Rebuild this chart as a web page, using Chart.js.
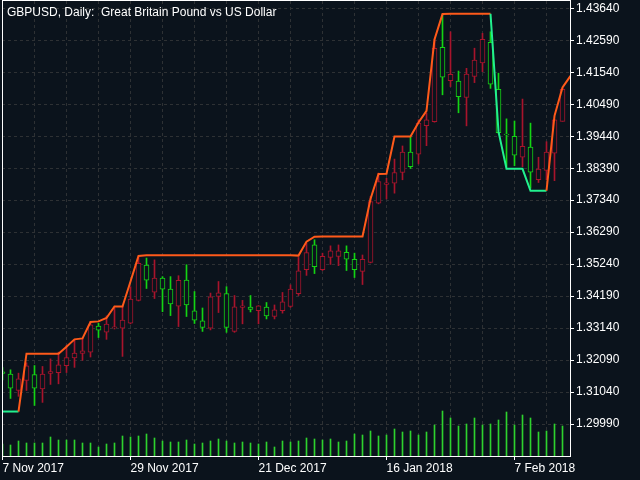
<!DOCTYPE html>
<html>
<head>
<meta charset="utf-8">
<script src="https://cdn.jsdelivr.net/npm/chart.js@4.4.1/dist/chart.umd.min.js"></script>
<style>
  html, body { margin: 0; padding: 0; background: #0b131c; }
  canvas { display: block; }
</style>
</head>
<body>
<canvas id="chart" width="640" height="480"></canvas>
<script>
// GBPUSD daily candles, one entry per bar (7 Nov 2017 .. 15 Feb 2018)
const title = 'GBPUSD, Daily:  Great Britain Pound vs US Dollar';

const opens = [
  1.3170, 1.3163, 1.3109, 1.3142, 1.3161, 1.3114, 1.3165, 1.3168, 1.3191, 1.3216,
  1.3231, 1.3235, 1.3321, 1.3301, 1.3315, 1.3314, 1.3330, 1.3405, 1.3521, 1.3432,
  1.3478, 1.3442, 1.3386, 1.3472, 1.3371, 1.3338, 1.3314, 1.3418, 1.3427, 1.3303,
  1.3382, 1.3383, 1.3371, 1.3383, 1.3352, 1.3371, 1.3385, 1.3427, 1.3506, 1.3587,
  1.3506, 1.3546, 1.3549, 1.3563, 1.3540, 1.3500, 1.3530, 1.3724, 1.3786, 1.3790,
  1.3825, 1.3892, 1.3885, 1.3979, 1.3992, 1.4236, 1.4126, 1.4125, 1.4071, 1.4140,
  1.4185, 1.4252, 1.4098, 1.3951, 1.3944, 1.3875, 1.3908, 1.3801, 1.3832, 1.3888,
  1.3993
];
const highs = [
  1.3184, 1.3177, 1.3166, 1.3200, 1.3191, 1.3188, 1.3213, 1.3235, 1.3258, 1.3276,
  1.3280, 1.3336, 1.3330, 1.3354, 1.3380, 1.3385, 1.3450, 1.3549, 1.3544, 1.3538,
  1.3483, 1.3483, 1.3486, 1.3522, 1.3434, 1.3380, 1.3429, 1.3467, 1.3450, 1.3421,
  1.3405, 1.3421, 1.3388, 1.3398, 1.3390, 1.3431, 1.3456, 1.3546, 1.3593, 1.3604,
  1.3560, 1.3584, 1.3587, 1.3584, 1.3560, 1.3554, 1.3746, 1.3823, 1.3806, 1.3869,
  1.3912, 1.3941, 1.3998, 1.4020, 1.4262, 1.4345, 1.4287, 1.4158, 1.4167, 1.4233,
  1.4282, 1.4287, 1.4151, 1.4001, 1.3994, 1.4066, 1.3987, 1.3875, 1.3926, 1.3998,
  1.4102
];
const lows = [
  1.3144, 1.3083, 1.3090, 1.3109, 1.3060, 1.3070, 1.3129, 1.3131, 1.3168, 1.3185,
  1.3208, 1.3219, 1.3283, 1.3277, 1.3311, 1.3221, 1.3328, 1.3403, 1.3444, 1.3411,
  1.3368, 1.3355, 1.3319, 1.3352, 1.3329, 1.3303, 1.3308, 1.3365, 1.3300, 1.3300,
  1.3328, 1.3367, 1.3328, 1.3344, 1.3344, 1.3363, 1.3382, 1.3421, 1.3487, 1.3493,
  1.3503, 1.3523, 1.3519, 1.3503, 1.3480, 1.3457, 1.3528, 1.3722, 1.3738, 1.3757,
  1.3801, 1.3838, 1.3853, 1.3913, 1.3990, 1.4080, 1.4107, 1.4021, 1.3978, 1.4120,
  1.4156, 1.4101, 1.3954, 1.3844, 1.3847, 1.3844, 1.3773, 1.3792, 1.3801, 1.3798,
  1.3993
];
const closes = [
  1.3165, 1.3117, 1.3147, 1.3190, 1.3117, 1.3163, 1.3171, 1.3193, 1.3217, 1.3232,
  1.3239, 1.3325, 1.3307, 1.3327, 1.3318, 1.3340, 1.3409, 1.3527, 1.3471, 1.3478,
  1.3442, 1.3393, 1.3471, 1.3390, 1.3340, 1.3316, 1.3417, 1.3430, 1.3316, 1.3384,
  1.3387, 1.3375, 1.3387, 1.3354, 1.3374, 1.3400, 1.3442, 1.3502, 1.3562, 1.3516,
  1.3550, 1.3568, 1.3568, 1.3540, 1.3506, 1.3540, 1.3729, 1.3795, 1.3791, 1.3825,
  1.3892, 1.3844, 1.3987, 1.3998, 1.4233, 1.4138, 1.4147, 1.4074, 1.4148, 1.4194,
  1.4262, 1.4115, 1.3956, 1.3948, 1.3882, 1.3911, 1.3826, 1.3836, 1.3892, 1.3998,
  1.4098
];
// tick volume, thousands
const volumeK = [
  48, 44, 60, 52, 52, 52, 76, 64, 64, 64,
  52, 52, 36, 48, 52, 80, 76, 80, 88, 72,
  60, 56, 56, 64, 48, 52, 60, 68, 60, 52,
  56, 52, 48, 56, 36, 60, 56, 60, 72, 68,
  64, 68, 56, 60, 88, 84, 100, 80, 84, 108,
  96, 100, 84, 96, 124, 180, 152, 120, 128, 152,
  124, 128, 144, 176, 124, 164, 152, 96, 100, 128,
  120
];
// trailing indicator line (runs one bar past the last candle)
const trendLine = [
  1.3040, 1.3040, 1.3040, 1.3230, 1.3230, 1.3230, 1.3230, 1.3230, 1.3253, 1.3277,
  1.3280, 1.3334, 1.3336, 1.3347, 1.3385, 1.3385, 1.3467, 1.3551, 1.3553, 1.3553,
  1.3553, 1.3553, 1.3553, 1.3553, 1.3553, 1.3553, 1.3553, 1.3553, 1.3553, 1.3553,
  1.3553, 1.3553, 1.3553, 1.3553, 1.3553, 1.3553, 1.3553, 1.3552, 1.3598, 1.3614,
  1.3615, 1.3615, 1.3615, 1.3615, 1.3615, 1.3615, 1.3738, 1.3820, 1.3821, 1.3943,
  1.3943, 1.3943, 1.3989, 1.4027, 1.4262, 1.4345, 1.4346, 1.4346, 1.4346, 1.4346,
  1.4346, 1.4346, 1.3959, 1.3837, 1.3837, 1.3837, 1.3765, 1.3765, 1.3765, 1.4011,
  1.4104, 1.4142
];
// bar ranges where the indicator is in its "down" colour
const downRuns = [[0, 2], [61, 68]];

const priceTicks = [
  1.43640, 1.42590, 1.41540, 1.40490, 1.39440, 1.38390, 1.37340,
  1.36290, 1.35240, 1.34190, 1.33140, 1.32090, 1.31040, 1.29990
];
const xTickBars = [0, 16, 32, 48, 64];
const xTickLabels = ['7 Nov 2017', '29 Nov 2017', '21 Dec 2017', '16 Jan 2018', '7 Feb 2018'];

const BG = '#0b131c';
const UP = '#a8142c';     // close above open
const DOWN = '#14d414';   // close below open
const LINE_UP = '#ff5a1a';
const LINE_DOWN = '#22f08e';
const GRID = '#2e3134';

Chart.defaults.font.family = '"Liberation Sans", Arial, sans-serif';
Chart.defaults.font.size = 12;

const bars = opens.map((o, i) => i);
const candleColors = bars.map(i => closes[i] > opens[i] ? UP : DOWN);
const gridBars = [];
for (let i = 0; i < opens.length; i += 4) gridBars.push(i);

function isDown(a, b) {
  return downRuns.some(r => a >= r[0] && b <= r[1]);
}

// keep the plot edge where we put it, labels may hang over
function noPadding(s) {
  s.paddingTop = 0;
  s.paddingBottom = 0;
  s.paddingLeft = 0;
  s.paddingRight = 0;
}

// white frame round the plot plus the symbol caption
const frame = {
  id: 'frame',
  afterDraw(chart) {
    const { ctx, chartArea: a } = chart;
    ctx.save();
    ctx.strokeStyle = '#ffffff';
    ctx.lineWidth = 1;
    ctx.strokeRect(a.left + 0.5, a.top - 0.5, a.right - a.left, a.bottom - a.top + 1);
    ctx.fillStyle = '#ffffff';
    ctx.font = '12px "Liberation Sans", Arial, sans-serif';
    ctx.textBaseline = 'alphabetic';
    ctx.fillText(title, 7, 16);
    ctx.restore();
  }
};

new Chart(document.getElementById('chart'), {
  type: 'bar',
  data: {
    datasets: [
      {
        type: 'line',
        label: 'Trend',
        data: trendLine.map((v, i) => ({ x: i, y: v })),
        yAxisID: 'y',
        borderColor: LINE_UP,
        borderWidth: 2,
        pointRadius: 0,
        tension: 0,
        clip: 0,
        order: 0,
        segment: {
          borderColor: ctx => isDown(ctx.p0DataIndex, ctx.p1DataIndex) ? LINE_DOWN : LINE_UP
        }
      },
      {
        label: 'Body',
        data: bars.map(i => ({ x: i, y: [Math.min(opens[i], closes[i]), Math.max(opens[i], closes[i])] })),
        yAxisID: 'y',
        backgroundColor: BG,
        borderColor: candleColors,
        borderWidth: 1,
        borderSkipped: false,
        barThickness: 5,
        grouped: false,
        order: 1
      },
      {
        label: 'Wick',
        data: bars.map(i => ({ x: i, y: [lows[i], highs[i]] })),
        yAxisID: 'y',
        backgroundColor: candleColors,
        barThickness: 1,
        grouped: false,
        order: 2
      },
      {
        label: 'Volume',
        data: bars.map(i => ({ x: i, y: volumeK[i] })),
        yAxisID: 'vol',
        backgroundColor: '#2ed22e',
        barThickness: 1,
        grouped: false,
        order: 3
      }
    ]
  },
  options: {
    responsive: false,
    animation: false,
    devicePixelRatio: 1,
    layout: { padding: { left: 2, top: 1, right: 0, bottom: 0 } },
    plugins: { legend: { display: false }, tooltip: { enabled: false } },
    scales: {
      x: {
        type: 'linear',
        bounds: 'data',
        offset: false,
        min: -0.0625,
        max: 70.9375,
        afterBuildTicks: s => { s.ticks = gridBars.map(v => ({ value: v })); },
        afterFit: s => { s.height = 24; noPadding(s); },
        ticks: {
          autoSkip: false,
          maxRotation: 0,
          align: 'start',
          padding: 1,
          color: '#ffffff',
          callback: v => {
            const k = xTickBars.indexOf(v);
            return k < 0 ? '' : xTickLabels[k];
          }
        },
        grid: {
          offset: false,
          color: GRID,
          tickLength: 4,
          tickColor: ctx => (ctx.tick && xTickBars.includes(ctx.tick.value)) ? '#ffffff' : 'rgba(0,0,0,0)'
        },
        border: { display: false, dash: [3, 3] }
      },
      y: {
        type: 'linear',
        position: 'right',
        bounds: 'data',
        min: 1.2894,
        max: 1.4388,
        afterBuildTicks: s => { s.ticks = priceTicks.map(v => ({ value: v })); },
        afterFit: s => { s.width = 70; noPadding(s); },
        ticks: {
          padding: 2,
          color: '#ffffff',
          callback: v => v.toFixed(5)
        },
        grid: { color: GRID, tickLength: 4, tickColor: '#ffffff' },
        border: { display: false, dash: [3, 3] }
      },
      vol: {
        type: 'linear',
        display: false,
        min: 0,
        max: 1820
      }
    }
  },
  plugins: [frame]
});
</script>
</body>
</html>
